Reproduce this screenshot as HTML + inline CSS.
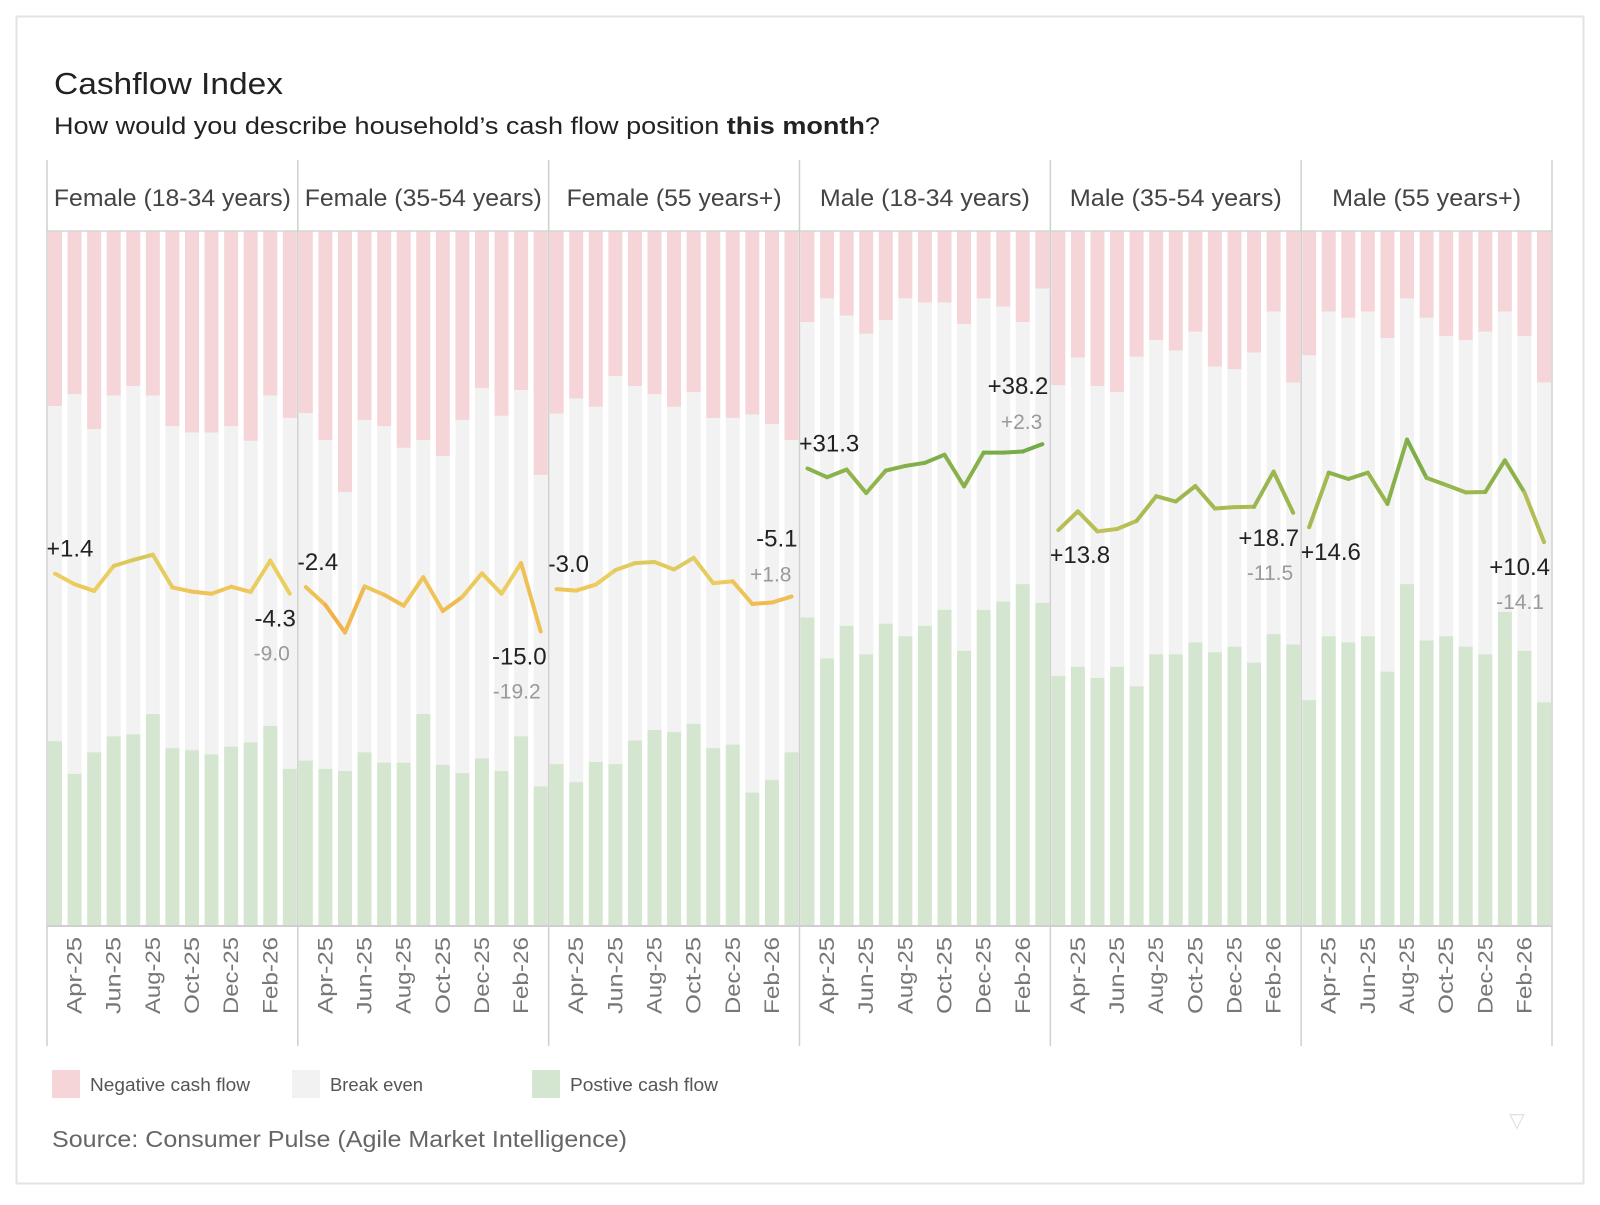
<!DOCTYPE html>
<html><head><meta charset="utf-8">
<style>
html,body{margin:0;padding:0;background:#fff;}
body{width:1600px;height:1200px;overflow:hidden;font-family:"Liberation Sans",sans-serif;}
svg text{font-family:"Liberation Sans",sans-serif;}
</style></head>
<body>
<svg id="chart" width="1600" height="1200" viewBox="0 0 1600 1200" xmlns="http://www.w3.org/2000/svg">
<rect x="16.5" y="16.5" width="1567" height="1167" fill="#fff" stroke="#e3e3e3" stroke-width="2"/>
<text x="54" y="94" font-size="31" fill="#222" textLength="229" lengthAdjust="spacingAndGlyphs">Cashflow Index</text>
<text x="54" y="134" font-size="24" fill="#222" textLength="826" lengthAdjust="spacingAndGlyphs">How would you describe household’s cash flow position <tspan font-weight="bold">this month</tspan>?</text>
<g id="panels"></g>
<g>
<rect x="52" y="1070" width="28" height="28" fill="#f5d5d8"/>
<text x="90" y="1091" font-size="18" fill="#555" textLength="160" lengthAdjust="spacingAndGlyphs">Negative cash flow</text>
<rect x="292" y="1070" width="28" height="28" fill="#f2f2f2"/>
<text x="330" y="1091" font-size="18" fill="#555" textLength="93" lengthAdjust="spacingAndGlyphs">Break even</text>
<rect x="532" y="1070" width="28" height="28" fill="#d5e6d0"/>
<text x="570" y="1091" font-size="18" fill="#555" textLength="148" lengthAdjust="spacingAndGlyphs">Postive cash flow</text>
</g>
<text x="52" y="1147" font-size="23" fill="#666" textLength="575" lengthAdjust="spacingAndGlyphs">Source: Consumer Pulse (Agile Market Intelligence)</text>
<text x="1517" y="1127" font-size="20" fill="#ddd" text-anchor="middle">▽</text>
</svg>
<script>
const panelNames = ["Female (18-34 years)","Female (35-54 years)","Female (55 years+)","Male (18-34 years)","Male (35-54 years)","Male (55 years+)"];
const months = ["Mar-25","Apr-25","May-25","Jun-25","Jul-25","Aug-25","Sep-25","Oct-25","Nov-25","Dec-25","Jan-26","Feb-26","Mar-26"];
const tickLabels = ["Apr-25","Jun-25","Aug-25","Oct-25","Dec-25","Feb-26"];
const negF1834 = [25.2,23.5,28.5,23.7,22.3,23.7,28.1,29.0,29.0,28.1,30.2,23.7,26.9];
const posF1834 = [26.6,21.9,25.0,27.3,27.6,30.5,25.6,25.3,24.7,25.8,26.4,28.8,22.6];
const negF3554 = [26.2,30.1,37.6,27.2,28.1,31.2,30.1,32.4,27.2,22.6,26.6,22.9,35.1];
const posF3554 = [23.8,22.6,22.3,25.0,23.5,23.5,30.5,23.2,22.0,24.1,22.3,27.3,20.1];
const negF55 = [26.3,24.1,25.3,20.9,22.3,23.5,25.3,23.2,26.9,26.9,26.4,27.8,30.1];
const posF55 = [23.3,20.7,23.6,23.3,26.7,28.2,27.9,29.1,25.6,26.1,19.2,21.0,25.0];
const negM1834 = [13.1,9.7,12.2,14.8,12.8,9.7,10.3,10.3,13.4,9.7,10.9,13.1,8.3];
const posM1834 = [44.4,38.5,43.2,39.1,43.5,41.7,43.2,45.5,39.6,45.5,46.7,49.2,46.5];
const negM3554 = [22.2,18.2,22.3,23.2,18.1,15.7,17.2,14.5,19.5,19.9,17.5,11.6,21.8];
const posM3554 = [36.0,37.3,35.7,37.3,34.5,39.1,39.1,40.8,39.4,40.2,37.9,42.0,40.5];
const negM55 = [17.9,11.6,12.5,11.6,15.4,9.7,12.5,15.1,15.7,14.5,11.6,15.1,21.8];
const posM55 = [32.5,41.7,40.8,41.7,36.6,49.2,41.1,41.7,40.2,39.1,45.2,39.6,32.2];
const yoyChange = [-9.0,-19.2,1.8,2.3,-11.5,-14.1];
const firstLabelPlace = ["above","above","above","above","below","below"];
const lastLabelPlace = ["below","below","above","above","below","below"];

const negAll=[negF1834,negF3554,negF55,negM1834,negM3554,negM55];
const posAll=[posF1834,posF3554,posF55,posM1834,posM3554,posM55];
const headerWidths=[237,237,215,210,212,189];

const NS="http://www.w3.org/2000/svg";
const root=document.getElementById('panels');
const L0=47, R0=1552, PW=(R0-L0)/6;
const headTop=160, plotTop=231, plotBot=926, axisBot=1046;
function pctY(p){return plotTop+(plotBot-plotTop)*p/100;}
function lineY(v){return 578.6-3.52*v;}
function el(tag,attrs,parent){const e=document.createElementNS(NS,tag);for(const k in attrs)e.setAttribute(k,attrs[k]);(parent||root).appendChild(e);return e;}
function fmt(v){return (v>0?"+":"")+v.toFixed(1);}
function lerp(a,b,t){return Math.round(a+(b-a)*t);}
function colorFor(v){
  const o=[245,168,66], y=[236,206,96], g=[112,170,70];
  let c;
  if(v<0){const t=Math.min(1,-v/15);c=[lerp(y[0],o[0],t),lerp(y[1],o[1],t),lerp(y[2],o[2],t)];}
  else{const t=Math.min(1,v/38);c=[lerp(y[0],g[0],t),lerp(y[1],g[1],t),lerp(y[2],g[2],t)];}
  return "rgb("+c.join(",")+")";
}

for(let p=0;p<panelNames.length;p++){
  const left=L0+p*PW, right=left+PW;
  const g=el('g',{});
  
  
  const ht=el('text',{x:left+PW/2,y:206,'font-size':24,fill:'#444','text-anchor':'middle',textLength:headerWidths[p],lengthAdjust:'spacingAndGlyphs'},g);
  ht.textContent=panelNames[p];
  
  
  const neg=negAll[p], pos=posAll[p];
  const n=months.length;
  const cx=i=>left+8+i*(PW-16)/(n-1);
  for(let i=0;i<n;i++){
    const x=cx(i)-7;
    const r1=el('rect',{x:x,y:plotTop,width:14,height:pctY(neg[i])-plotTop,fill:'#f5d5d8'},g);
    
    
    const r2=el('rect',{x:x,y:pctY(neg[i]),width:14,height:pctY(100-pos[i])-pctY(neg[i]),fill:'#f2f2f2'},g);
    
    
    const r3=el('rect',{x:x,y:pctY(100-pos[i]),width:14,height:plotBot-pctY(100-pos[i]),fill:'#d5e6d0'},g);
    
    
  }
  const idx=pos.map((v,i)=>+(v-neg[i]).toFixed(1));
  for(let i=0;i<n-1;i++){
    const s=el('line',{x1:cx(i),y1:lineY(idx[i]),x2:cx(i+1),y2:lineY(idx[i+1]),stroke:colorFor((idx[i]+idx[i+1])/2),'stroke-width':4,'stroke-linecap':'round'},g);
    
    
  }
  const fy=lineY(idx[0])+(firstLabelPlace[p]==="above"?-17:33);
  const fl=el('text',{x:left-1,y:fy,'font-size':24,fill:'#222'},g);
  fl.textContent=fmt(idx[0]);
  
  
  const ly=lineY(idx[n-1]);
  const above=lastLabelPlace[p]==="above";
  const ll=el('text',{x:right-2,y:above?ly-50:ly+33,'font-size':24,fill:'#222','text-anchor':'end'},g);
  ll.textContent=fmt(idx[n-1]);
  
  
  const dl=el('text',{x:right-8,y:above?ly-15:ly+67,'font-size':21,fill:'#9a9a9a','text-anchor':'end'},g);
  dl.textContent=fmt(yoyChange[p]);
  
  
  for(let t=0;t<tickLabels.length;t++){
    const i=months.indexOf(tickLabels[t]);
    const x=cx(i)+7;
    const tx=el('text',{x:0,y:0,'font-size':21,fill:'#777','text-anchor':'end',textLength:77,lengthAdjust:'spacingAndGlyphs',transform:'translate('+x+',937) rotate(-90)'},g);
    tx.textContent=tickLabels[t];
    
    
  }
}
const lines=el('g',{});


el('line',{x1:L0,y1:plotTop,x2:R0,y2:plotTop,stroke:'#d6d6d6','stroke-width':1.5},lines);
el('line',{x1:L0,y1:plotBot,x2:R0,y2:plotBot,stroke:'#cfcfcf','stroke-width':2},lines);
for(let p=0;p<=6;p++){
  const x=L0+p*PW;
  el('line',{x1:x,y1:headTop,x2:x,y2:axisBot,stroke:'#cfcfcf','stroke-width':1.5},lines);
}
</script>
</body></html>
